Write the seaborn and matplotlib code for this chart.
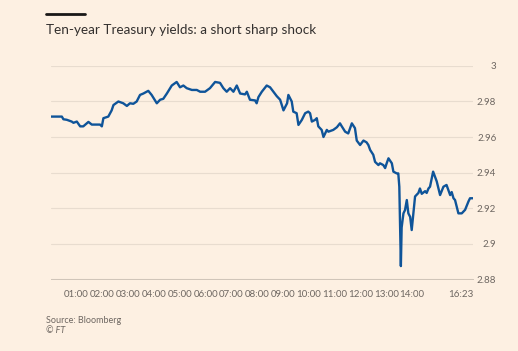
import matplotlib
matplotlib.use("Agg")
import matplotlib.pyplot as plt
import seaborn as sns
import pandas as pd
from matplotlib.lines import Line2D

# Ten-year Treasury yield, intraday (hours since midnight, yield %)
hours = [0.00, 0.43, 0.49, 0.62, 0.81, 0.88, 1.01, 1.14, 1.26, 1.46, 1.59, 1.91, 1.98,
         2.04, 2.23, 2.36, 2.43, 2.62, 2.81, 2.95, 3.07, 3.20, 3.33, 3.46, 3.59, 3.78,
         3.91, 4.11, 4.24, 4.36, 4.50, 4.69, 4.88, 5.01, 5.14, 5.27, 5.47, 5.66, 5.79,
         5.98, 6.17, 6.37, 6.56, 6.69, 6.82, 6.95, 7.08, 7.21, 7.34, 7.53, 7.60, 7.72,
         7.92, 7.98, 8.05, 8.18, 8.37, 8.50, 8.63, 8.76, 8.89, 9.02, 9.16, 9.21, 9.34,
         9.40, 9.53, 9.60, 9.73, 9.86, 9.98, 10.05, 10.12, 10.24, 10.31, 10.37, 10.50,
         10.57, 10.70, 10.76, 10.95, 11.09, 11.21, 11.28, 11.41, 11.53, 11.67, 11.79,
         11.86, 11.99, 12.12, 12.24, 12.31, 12.38, 12.50, 12.57, 12.70, 12.76, 12.89,
         12.96, 13.02, 13.09, 13.22, 13.28, 13.41, 13.47, 13.51, 13.57, 13.60, 13.67,
         13.73, 13.80, 13.86, 13.93, 13.99, 14.12, 14.25, 14.31, 14.38, 14.51, 14.57,
         14.64, 14.70, 14.82, 14.96, 15.09, 15.22, 15.34, 15.48, 15.54, 15.61, 15.67,
         15.80, 15.93, 16.06, 16.19, 16.25, 16.383]
yields = [2.9715, 2.9715, 2.9700, 2.9697, 2.9687, 2.9680, 2.9687, 2.9660, 2.9660, 2.9685,
          2.9670, 2.9670, 2.9660, 2.9706, 2.9715, 2.9750, 2.9780, 2.9800, 2.9790, 2.9775,
          2.9790, 2.9787, 2.9800, 2.9837, 2.9845, 2.9860, 2.9837, 2.9790, 2.9810, 2.9815,
          2.9845, 2.9890, 2.9910, 2.9880, 2.9890, 2.9875, 2.9865, 2.9865, 2.9855, 2.9855,
          2.9875, 2.9910, 2.9905, 2.9875, 2.9855, 2.9875, 2.9855, 2.9890, 2.9845, 2.9840,
          2.9855, 2.9810, 2.9806, 2.9790, 2.9825, 2.9855, 2.9890, 2.9880, 2.9855, 2.9830,
          2.9810, 2.9750, 2.9790, 2.9837, 2.9800, 2.9743, 2.9734, 2.9668, 2.9696, 2.9734,
          2.9743, 2.9734, 2.9687, 2.9696, 2.9706, 2.9660, 2.9640, 2.9600, 2.9640, 2.9630,
          2.9640, 2.9655, 2.9677, 2.9660, 2.9630, 2.9620, 2.9677, 2.9650, 2.9580, 2.9555,
          2.9580, 2.9570, 2.9555, 2.9527, 2.9500, 2.9460, 2.9442, 2.9452, 2.9442, 2.9425,
          2.9452, 2.9480, 2.9452, 2.9405, 2.9395, 2.9395, 2.9320, 2.8873, 2.9090, 2.9170,
          2.9188, 2.9245, 2.9170, 2.9150, 2.9076, 2.9265, 2.9285, 2.9310, 2.9280, 2.9295,
          2.9285, 2.9310, 2.9320, 2.9405, 2.9350, 2.9273, 2.9320, 2.9330, 2.9273, 2.9290,
          2.9255, 2.9245, 2.9170, 2.9170, 2.9190, 2.9237, 2.9255, 2.9255]

tick_hours = list(range(0, 17)) + [16 + 23 / 60]
tick_labels = [""] + [f"{h:02d}:00" for h in range(1, 15)] + ["", "", "16:23"]
y_ticks = [2.88, 2.9, 2.92, 2.94, 2.96, 2.98, 3.0]

bg = "#fdf0e2"
grid_col = "#e8dccf"
text_col = "#6e6762"

sns.set_style("white", {"axes.facecolor": bg, "figure.facecolor": bg})
plt.rcParams["font.family"] = ["Lato", "DejaVu Sans"]

fig = plt.figure(figsize=(5.18, 3.51), dpi=100, facecolor=bg)
ax = fig.add_axes([0.098, 0.205, 0.816, 0.607])
ax.set_facecolor(bg)

df = pd.DataFrame({"hour": hours, "yield": yields})
sns.lineplot(data=df, x="hour", y="yield", ax=ax, color="#0f5499",
             linewidth=1.7, sort=False)

ax.set_xlim(0, tick_hours[-1])
ax.set_ylim(2.88, 3.0)
ax.set_xlabel("")
ax.set_ylabel("")

ax.set_yticks(y_ticks)
ax.set_yticklabels([f"{v:g}" for v in y_ticks])
ax.yaxis.tick_right()
ax.tick_params(axis="y", length=0, pad=16.5, labelsize=7, labelcolor=text_col)
for lab in ax.get_yticklabels():
    lab.set_horizontalalignment("right")
ax.grid(axis="y", color=grid_col, linewidth=0.8)
ax.set_axisbelow(True)

ax.set_xticks(tick_hours)
ax.set_xticklabels(tick_labels)
ax.tick_params(axis="x", length=5, width=0.7, color="#cfc4b8", pad=3,
               labelsize=7, labelcolor=text_col)
ax.get_xticklabels()[-1].set_horizontalalignment("right")

for side in ["top", "right", "left"]:
    ax.spines[side].set_visible(False)
ax.spines["bottom"].set_color("#cfc4b8")
ax.spines["bottom"].set_linewidth(0.7)

# FT header bar, title and source
fig.add_artist(Line2D([46 / 518, 85 / 518], [0.960, 0.960], color="#1a1817",
                      linewidth=2, transform=fig.transFigure))
fig.text(46 / 518, 0.903, "Ten-year Treasury yields: a short sharp shock",
         fontsize=9.7, color="#33302e", va="baseline")
fig.text(46 / 518, 0.080, "Source: Bloomberg", fontsize=6.5, color=text_col, va="baseline")
fig.text(46 / 518, 0.050, "© FT", fontsize=6.5, color=text_col, va="baseline", style="italic")

fig.savefig("out.png", dpi=100, facecolor=bg)
